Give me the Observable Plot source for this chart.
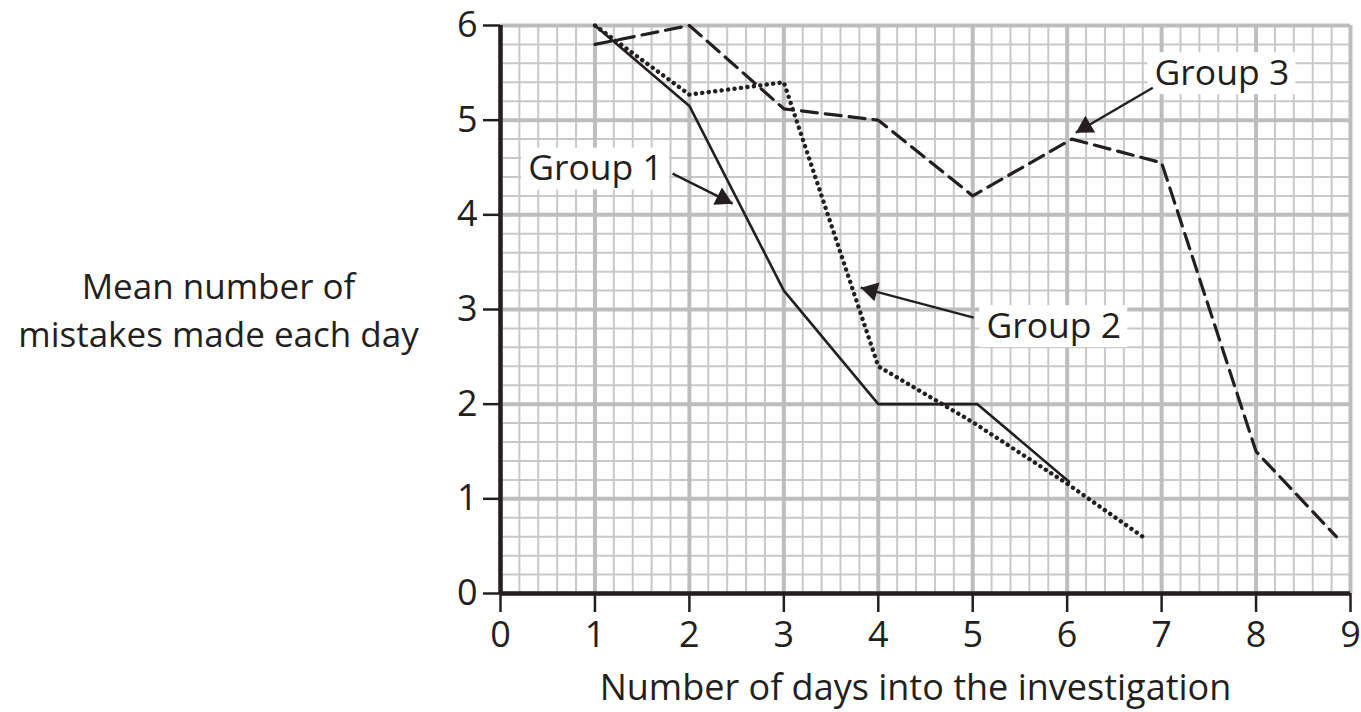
<!DOCTYPE html>
<html>
<head>
<meta charset="utf-8">
<script src="https://cdn.jsdelivr.net/npm/d3@7"></script>
<script src="https://cdn.jsdelivr.net/npm/@observablehq/plot@0.6"></script>
<style>
  html, body { margin: 0; padding: 0; background: #fff; }
  #chart svg { display: block; }
</style>
</head>
<body>
<div id="chart"></div>
<script>
// ---- data ----
const group1Days = [1, 2, 3, 4, 5.05, 6.02];
const group1Mistakes = [6, 5.15, 3.2, 2, 2, 1.18];

const group2Days = [1, 2, 3, 4, 5, 6, 6.8];
const group2Mistakes = [6, 5.27, 5.4, 2.4, 1.81, 1.16, 0.6];

const group3Days = [1, 2, 3, 4, 5, 6.05, 7, 8, 8.85];
const group3Mistakes = [5.8, 6, 5.12, 5.0, 4.2, 4.8, 4.55, 1.5, 0.6];

const xTicks = [0, 1, 2, 3, 4, 5, 6, 7, 8, 9];
const yTicks = [0, 1, 2, 3, 4, 5, 6];

const labelNames = ["Group 1", "Group 2", "Group 3"];
const labelDays = [1.006, 5.858, 7.638];
const labelValues = [4.483, 2.819, 5.491];

const arrowFromDays = [1.822, 5.011, 6.907];
const arrowFromValues = [4.435, 2.914, 5.343];
const arrowToDays = [2.458, 3.814, 6.091];
const arrowToValues = [4.118, 3.231, 4.868];

const xTitle = "Number of days into the investigation";
const yTitle = "Mean number of\nmistakes made each day";

// ---- layout ----
const W = 1361, H = 712;
const mL = 500, mR = 11, mT = 25, mB = 119;
const kx = (W - mL - mR) / 9, ky = (H - mT - mB) / 6;
const ink = "#231f20";
const font = "Open Sans";

const minorX = d3.range(0, 9.0001, 0.2);
const minorY = d3.range(0, 6.0001, 0.2);

const toRows = (xs, ys) => xs.map((x, i) => ({day: x, mistakes: ys[i]}));
const g1 = toRows(group1Days, group1Mistakes);
const g2 = toRows(group2Days, group2Mistakes);
const g3 = toRows(group3Days, group3Mistakes);

const labels = labelNames.map((t, i) => ({text: t, x: labelDays[i], y: labelValues[i]}));
const boxHalfW = 74 / kx, boxHalfH = 21 / ky;

const headR = 7.2;
const triY = Math.sqrt(Math.PI * headR * headR / (Math.sqrt(3) * 3));
const tipOffset = 2 * triY;
const arrows = arrowFromDays.map((x1, i) => {
  const y1 = arrowFromValues[i], x2 = arrowToDays[i], y2 = arrowToValues[i];
  const px = (x2 - x1) * kx, py = -(y2 - y1) * ky;
  const len = Math.hypot(px, py);
  const ux = px / len, uy = py / len;
  return {
    x1, y1, x2, y2,
    hx: x2 - tipOffset * ux / kx,
    hy: y2 + tipOffset * uy / ky,
    angle: Math.atan2(ux, -uy) * 180 / Math.PI
  };
});

const chart = Plot.plot({
  width: W,
  height: H,
  marginLeft: mL,
  marginRight: mR,
  marginTop: mT,
  marginBottom: mB,
  x: {domain: [0, 9]},
  y: {domain: [0, 6]},
  style: {fontFamily: font, fontSize: "36px", color: ink, background: "#fff"},
  marks: [
    Plot.ruleX(minorX, {stroke: "#c8c8c8", strokeWidth: 2}),
    Plot.ruleY(minorY, {stroke: "#c8c8c8", strokeWidth: 2}),
    Plot.ruleX(xTicks, {stroke: "#bdbdbd", strokeWidth: 4}),
    Plot.ruleY(yTicks, {stroke: "#bdbdbd", strokeWidth: 4}),
    Plot.line(g1, {x: "day", y: "mistakes", stroke: ink, strokeWidth: 2.6}),
    Plot.line(g2, {x: "day", y: "mistakes", stroke: ink, strokeWidth: 4.4, strokeDasharray: "0.1 6.4", strokeLinecap: "round"}),
    Plot.line(g3, {x: "day", y: "mistakes", stroke: ink, strokeWidth: 3.2, strokeDasharray: "16 8"}),
    Plot.rect(labels, {x1: d => d.x - boxHalfW, x2: d => d.x + boxHalfW, y1: d => d.y - boxHalfH, y2: d => d.y + boxHalfH, fill: "#fff"}),
    Plot.text(labels, {x: "x", y: "y", text: "text", fontSize: 35.5, fill: ink}),
    Plot.link(arrows, {x1: "x1", y1: "y1", x2: "x2", y2: "y2", stroke: ink, strokeWidth: 2.4}),
    Plot.dot(arrows, {x: "hx", y: "hy", symbol: "triangle", r: headR, rotate: "angle", fill: ink, stroke: null}),
    Plot.ruleX([0], {stroke: ink, strokeWidth: 4.5}),
    Plot.ruleY([0], {stroke: ink, strokeWidth: 4.5}),
    Plot.axisX(xTicks, {tickSize: 19, tickPadding: 9, strokeWidth: 2.5, fontSize: 36, label: null, stroke: ink, fill: ink, tickFormat: d3.format("d")}),
    Plot.axisY(yTicks, {tickSize: 17, tickPadding: 6, strokeWidth: 2.5, fontSize: 36, label: null, stroke: ink, fill: ink, tickFormat: d3.format("d")}),
    Plot.text([yTitle], {frameAnchor: "left", textAnchor: "middle", dx: -282, dy: -2, text: d => d, fontSize: 35, lineHeight: 1.38, fill: ink}),
    Plot.text([xTitle], {frameAnchor: "bottom", textAnchor: "middle", dx: -10, dy: 106, text: d => d, fontSize: 36, fill: ink})
  ]
});
document.getElementById("chart").appendChild(chart);
</script>
</body>
</html>
